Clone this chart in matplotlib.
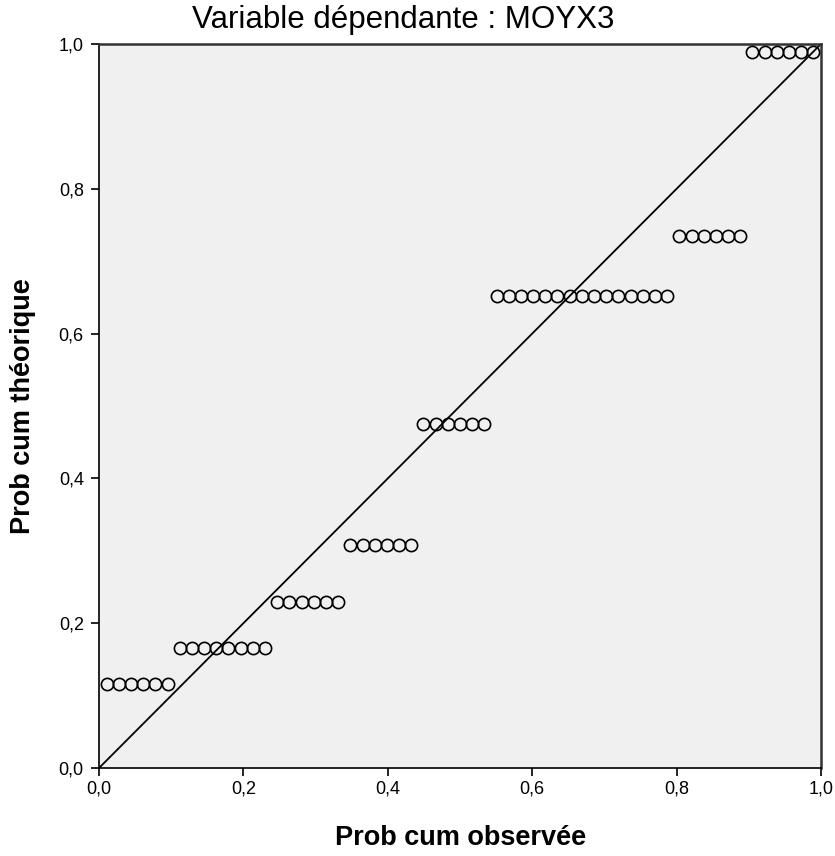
import matplotlib.pyplot as plt
import numpy as np

plt.rcParams['font.family'] = ['Liberation Sans', 'DejaVu Sans']

obs_prob = [0.0105, 0.0274, 0.0443, 0.0612, 0.0781, 0.0949,
            0.1118, 0.1287, 0.1456, 0.1624, 0.1793, 0.1962, 0.2131, 0.2300,
            0.2468, 0.2637, 0.2806, 0.2975, 0.3143, 0.3312,
            0.3481, 0.3650, 0.3819, 0.3987, 0.4156, 0.4325,
            0.4494, 0.4662, 0.4831, 0.5000, 0.5169, 0.5338,
            0.5506, 0.5675, 0.5844, 0.6013, 0.6181, 0.6350, 0.6519, 0.6688,
            0.6857, 0.7025, 0.7194, 0.7363, 0.7532, 0.7700, 0.7869,
            0.8038, 0.8207, 0.8376, 0.8544, 0.8713, 0.8882,
            0.9051, 0.9219, 0.9388, 0.9557, 0.9726, 0.9895]

# expected cumulative probability levels and how many cases sit on each
exp_levels = [0.116, 0.166, 0.229, 0.308, 0.475, 0.652, 0.735, 0.989]
level_counts = [6, 8, 6, 6, 6, 15, 6, 6]
exp_prob = np.repeat(exp_levels, level_counts)

ticks = [0.0, 0.2, 0.4, 0.6, 0.8, 1.0]
tick_labels = ["0,0", "0,2", "0,4", "0,6", "0,8", "1,0"]

fig = plt.figure(figsize=(8.35, 8.56), dpi=100)
ax = fig.add_axes([0.1186, 0.1028, 0.8646, 0.8458])
ax.set_facecolor("#F0F0F0")

# reference diagonal
ax.plot([0, 1], [0, 1], color="black", linewidth=1.3, zorder=2)

ax.plot(obs_prob, exp_prob, linestyle="none", marker="o", markersize=8.8,
        markerfacecolor="none", markeredgecolor="black", markeredgewidth=1.2,
        zorder=3, clip_on=False)

ax.set_xlim(0, 1)
ax.set_ylim(0, 1)
ax.set_xticks(ticks)
ax.set_xticklabels(tick_labels)
ax.set_yticks(ticks)
ax.set_yticklabels(tick_labels)
ax.tick_params(direction="out", length=6, width=1.2, labelsize=13, colors="black")
ax.tick_params(axis="x", pad=3)
ax.tick_params(axis="y", pad=5)

for side in ["left", "bottom"]:
    ax.spines[side].set_color("black")
    ax.spines[side].set_linewidth(1.2)
for side in ["top", "right"]:
    ax.spines[side].set_color("#333333")
    ax.spines[side].set_linewidth(1.8)

fig.text(0.483, 0.977, "Variable dépendante : MOYX3", fontsize=22.5,
         ha="center", va="center")
fig.text(0.551, 0.021, "Prob cum observée", fontsize=19.5, fontweight="bold",
         ha="center", va="center")
fig.text(0.027, 0.5257, "Prob cum théorique", fontsize=19.5, fontweight="bold",
         ha="center", va="center", rotation=90)

plt.savefig("out.png", dpi=100)
